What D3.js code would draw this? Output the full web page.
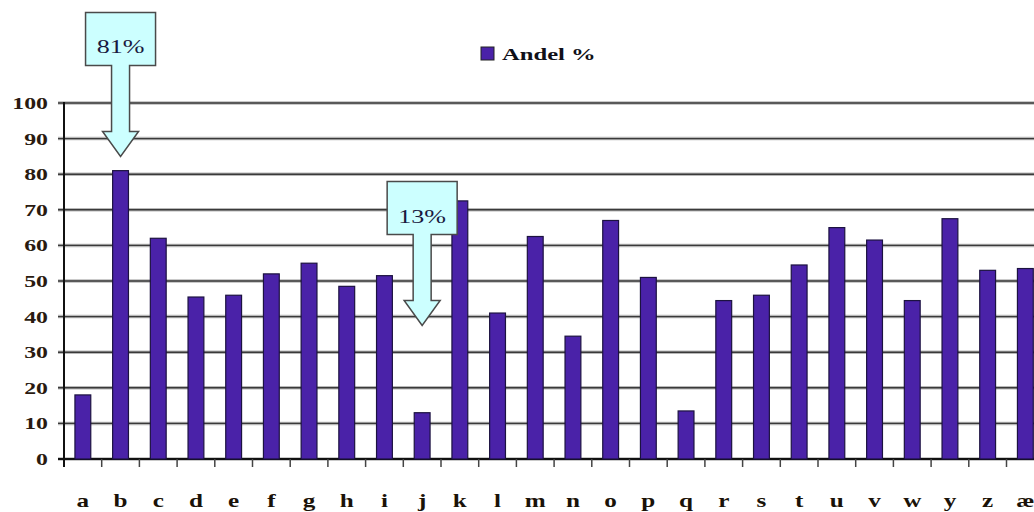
<!DOCTYPE html>
<meta charset="utf-8">
<title>Andel %</title>
<style>
body {
  margin: 0;
  background: #fff;
}
</style>
<body>
<script src="https://d3js.org/d3.v7.min.js"></script>
<script>
var categories = ["a", "b", "c", "d", "e", "f", "g", "h", "i", "j", "k", "l", "m",
                  "n", "o", "p", "q", "r", "s", "t", "u", "v", "w", "y", "z", "æ"];
var andel = [18, 81, 62, 45.5, 46, 52, 55, 48.5, 51.5, 13, 72.5, 41, 62.5,
             34.5, 67, 51, 13.5, 44.5, 46, 54.5, 65, 61.5, 44.5, 67.5, 53, 53.5];
var yTicks = [0, 10, 20, 30, 40, 50, 60, 70, 80, 90, 100];
var seriesName = "Andel %";
var calloutCats = ["b", "j"];
var calloutLabels = ["81%", "13%"];
var calloutTips = [85, 37.5];

var w = 1034,
    h = 512,
    left = 64,
    step = 37.7,
    barColor = "#4a22a8",
    fontSerif = "Liberation Serif";

var svg = d3.select("body").append("svg")
    .attr("width", w)
    .attr("height", h)
    .attr("font-family", fontSerif);

var x = d3.scaleBand()
    .domain(categories)
    .range([left, left + step * categories.length]);

var y = d3.scaleLinear()
    .domain([0, 100])
    .range([459, 103]);

// grid lines
var grid = svg.append("g");
grid.selectAll("line.halo")
    .data(yTicks)
  .enter().append("line")
    .attr("x1", left - 6)
    .attr("x2", w)
    .attr("y1", y)
    .attr("y2", y)
    .style("stroke", "#b8b8b8")
    .style("stroke-width", 3.5);
grid.selectAll("line.core")
    .data(yTicks)
  .enter().append("line")
    .attr("x1", left - 6)
    .attr("x2", w)
    .attr("y1", y)
    .attr("y2", y)
    .style("stroke", function(d) { return d === 0 ? "#111" : "#3a3a3a"; })
    .style("stroke-width", function(d) { return d === 0 ? 2 : 1.4; });

// y labels
svg.append("g").selectAll("text")
    .data(yTicks)
  .enter().append("text")
    .attr("transform", function(d) { return "translate(48," + (y(d) + 6) + ")scale(1.4,1)"; })
    .attr("text-anchor", "end")
    .style("font-family", fontSerif)
    .style("font-size", "17px")
    .style("font-weight", "bold")
    .style("fill", "#2a1a10")
    .text(function(d) { return d; });

// bars
svg.append("g").selectAll("rect")
    .data(andel)
  .enter().append("rect")
    .attr("x", function(d, i) { return x(categories[i]) + x.bandwidth() * 0.29; })
    .attr("width", x.bandwidth() * 0.42)
    .attr("y", function(d) { return y(d); })
    .attr("height", function(d) { return y(0) - y(d); })
    .style("fill", barColor)
    .style("stroke", "#1c1240")
    .style("stroke-width", 1.2);

// axes
svg.append("line")
    .attr("x1", left).attr("x2", left)
    .attr("y1", y(100) - 1).attr("y2", y(0) + 8)
    .style("stroke", "#111")
    .style("stroke-width", 2);

svg.append("g").selectAll("line")
    .data(categories.slice(1).map(function(c) { return x(c); }).concat([x.range()[1]]))
  .enter().append("line")
    .attr("x1", function(d) { return d; })
    .attr("x2", function(d) { return d; })
    .attr("y1", y(0))
    .attr("y2", y(0) + 8)
    .style("stroke", "#444")
    .style("stroke-width", 1.5);

// category labels at band centres
svg.append("g").selectAll("text")
    .data(categories)
  .enter().append("text")
    .attr("transform", function(d) { return "translate(" + (x(d) + x.bandwidth() / 2) + "," + (y(0) + 48) + ")scale(1.4,1)"; })
    .attr("text-anchor", "middle")
    .style("font-family", fontSerif)
    .style("font-size", "18px")
    .style("font-weight", "bold")
    .style("fill", "#1a1208")
    .text(function(d) { return d; });

// legend
svg.append("rect")
    .attr("x", 481)
    .attr("y", 47)
    .attr("width", 13)
    .attr("height", 13)
    .style("fill", barColor)
    .style("stroke", "#222")
    .style("stroke-width", 1);
svg.append("text")
    .attr("transform", "translate(502,60)scale(1.45,1)")
    .style("font-family", fontSerif)
    .style("font-size", "17px")
    .style("font-weight", "bold")
    .style("fill", "#101018")
    .text(seriesName);

// callouts
calloutCats.forEach(function(c, i) {
  var cx = x(c) + x.bandwidth() / 2,
      tip = y(calloutTips[i]),
      headTop = tip - 25,
      boxBottom = tip - 91,
      boxTop = tip - 144;
  var path = d3.path();
  path.moveTo(cx - 35, boxTop);
  path.lineTo(cx + 35, boxTop);
  path.lineTo(cx + 35, boxBottom);
  path.lineTo(cx + 9, boxBottom);
  path.lineTo(cx + 9, headTop);
  path.lineTo(cx + 18, headTop);
  path.lineTo(cx, tip);
  path.lineTo(cx - 18, headTop);
  path.lineTo(cx - 9, headTop);
  path.lineTo(cx - 9, boxBottom);
  path.lineTo(cx - 35, boxBottom);
  path.closePath();
  svg.append("path")
      .attr("d", path.toString())
      .style("fill", "#ccffff")
      .style("stroke", "#4a4a4a")
      .style("stroke-width", 1.5);
  svg.append("text")
      .attr("transform", "translate(" + cx + "," + (boxTop + 41) + ")scale(1.45,1)")
      .attr("text-anchor", "middle")
      .style("font-family", fontSerif)
      .style("font-size", "18px")
      .style("fill", "#1a1a40")
      .text(calloutLabels[i]);
});
</script>
